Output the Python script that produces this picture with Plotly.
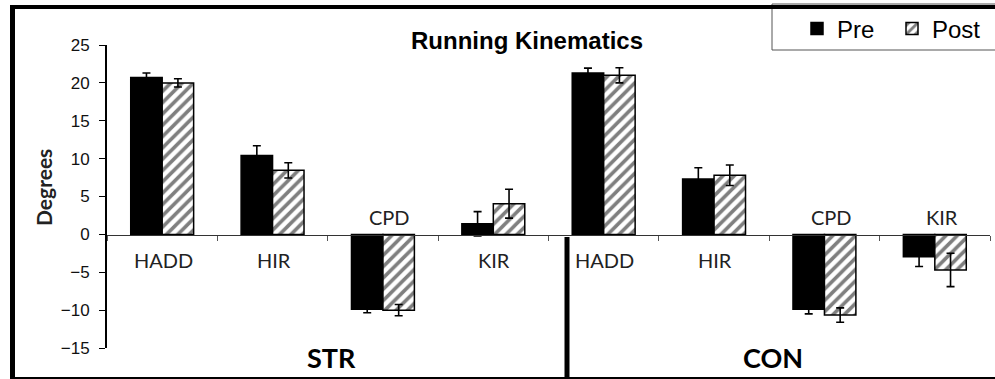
import plotly.graph_objects as go

# ---- data ----
groups = ["STR", "CON"]
measures = ["HADD", "HIR", "CPD", "KIR"]
categories = [f"{g} {m}" for g in groups for m in measures]
pre = [20.7, 10.4, -9.9, 1.4, 21.3, 7.3, -9.9, -2.95]
pre_err = [0.6, 1.3, 0.45, 1.6, 0.65, 1.5, 0.6, 1.3]
post = [20.0, 8.45, -10.0, 4.05, 21.0, 7.8, -10.65, -4.7]
post_err = [0.55, 1.0, 0.75, 1.9, 1.0, 1.35, 0.95, 2.2]
y_ticks = [25, 20, 15, 10, 5, 0, -5, -10, -15]

W, H = 995, 379
L, R, T, B = 107, 990, 45, 348


def px(x):
    return (x - L) / (R - L)


def py(y):
    return (B - y) / (B - T)


fig = go.Figure()
fig.add_trace(go.Bar(
    x=categories, y=pre, name="Pre",
    marker=dict(color="black", line=dict(color="black", width=1.5)),
    error_y=dict(type="data", array=pre_err, visible=True, color="black",
                 thickness=1.6, width=4),
))
fig.add_trace(go.Bar(
    x=categories, y=post, name="Post",
    marker=dict(color="white", line=dict(color="black", width=1.5),
                pattern=dict(shape="/", fgcolor="black", bgcolor="white",
                             size=8, solidity=0.45)),
    error_y=dict(type="data", array=post_err, visible=True, color="black",
                 thickness=1.6, width=4),
))

annotations = []
# measure labels
for i, c in enumerate(categories):
    m = c.split(" ", 1)[1]
    above = max(pre[i], post[i]) <= 0
    annotations.append(dict(
        x=c, xref="x", y=py(216.7) if above else py(260), yref="paper",
        text=m, showarrow=False, xshift=7 if above else 1,
        font=dict(family="Lato", size=20, color="#222"),
        xanchor="center", yanchor="middle",
    ))
# group labels
for gi, g in enumerate(groups):
    annotations.append(dict(
        x=gi * 4 + 1.5, xref="x", y=py(357.5), yref="paper",
        text=f"<b>{g}</b>", showarrow=False, xshift=4,
        font=dict(family="Lato", size=27, color="black"),
        xanchor="center", yanchor="middle",
    ))
# y-axis title
annotations.append(dict(
    x=px(43), xref="paper", y=py(188), yref="paper",
    text="<b>Degrees</b>", textangle=-90, showarrow=False,
    font=dict(family="Lato", size=21, color="#222"),
    xanchor="center", yanchor="middle",
))

shapes = [
    # legend box
    dict(type="rect", xref="paper", yref="paper", x0=px(772), x1=px(1000),
         y0=py(50), y1=py(4), line=dict(color="#555", width=1),
         fillcolor="white", layer="below"),
    # outer frame
    dict(type="line", xref="paper", yref="paper", x0=px(12.5), x1=px(12.5),
         y0=py(5), y1=py(380), line=dict(color="black", width=5)),
    dict(type="line", xref="paper", yref="paper", x0=px(10), x1=px(1000),
         y0=py(7), y1=py(7), line=dict(color="black", width=4)),
    dict(type="line", xref="paper", yref="paper", x0=px(10), x1=px(1000),
         y0=py(378), y1=py(378), line=dict(color="black", width=2)),
    # group separator
    dict(type="line", xref="paper", yref="paper", x0=px(567), x1=px(567),
         y0=py(237), y1=py(380), line=dict(color="black", width=5)),
]

fig.update_layout(
    width=W, height=H,
    margin=dict(l=L, r=W - R, t=T, b=H - B, pad=0),
    paper_bgcolor="white", plot_bgcolor="white",
    barmode="group", bargap=0.43, bargroupgap=0,
    title=dict(text="<b>Running Kinematics</b>", x=px(527), xref="paper",
               xanchor="center", y=1 - 41 / H, yref="container",
               yanchor="middle",
               font=dict(family="Liberation Sans, Arial", size=24, color="black")),
    legend=dict(orientation="h", x=px(797), xanchor="left", y=py(29),
                yanchor="middle", bgcolor="rgba(0,0,0,0)", borderwidth=0,
                font=dict(family="Liberation Sans, Arial", size=24, color="black"),
                itemwidth=30, tracegroupgap=0, entrywidth=50,
                entrywidthmode="pixels"),
    showlegend=True,
    annotations=annotations,
    shapes=shapes,
    xaxis=dict(
        type="category", anchor="free", position=py(235),
        showline=True, linecolor="#333", linewidth=1,
        ticks="outside", tickson="boundaries", ticklen=5, tickcolor="#555",
        showticklabels=False, showgrid=False, zeroline=False,
        range=[-0.5, 7.5],
    ),
    yaxis=dict(
        range=[-15, 25], tickvals=y_ticks, ticks="outside", ticklen=6,
        tickcolor="black", showline=True, linecolor="black", linewidth=2,
        showgrid=False, zeroline=False, ticklabelstandoff=6,
        tickfont=dict(family="Liberation Sans, Arial", size=17, color="#111"),
    ),
)

fig.write_html("out.html",
               config={"displayModeBar": False},
               post_script="document.body.style.margin='0';"
                           "document.body.style.padding='0';")
